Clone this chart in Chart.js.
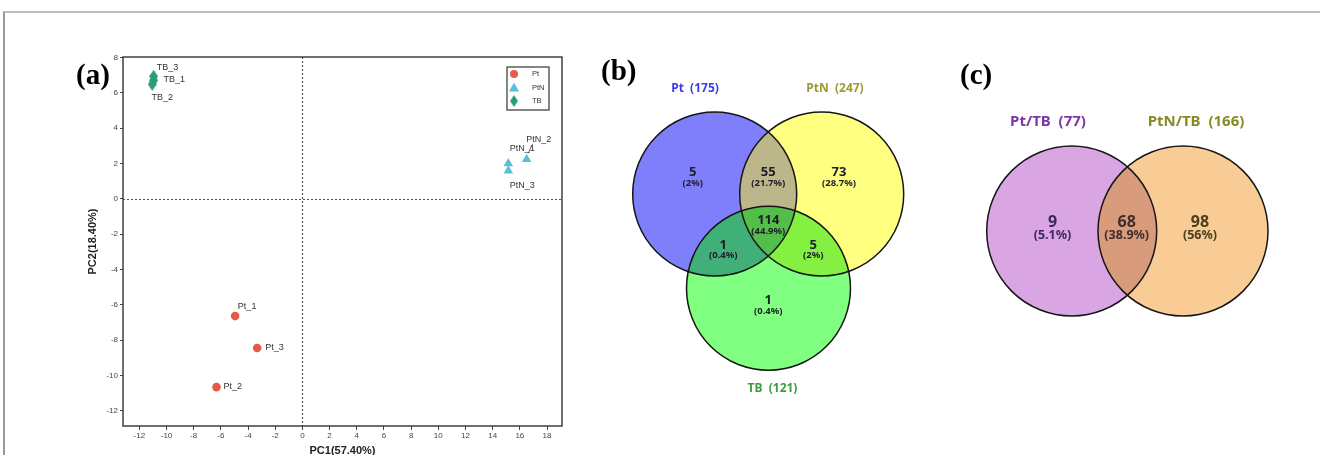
<!DOCTYPE html>
<html>
<head>
<meta charset="utf-8">
<script src="https://cdn.jsdelivr.net/npm/chart.js@4.4.1/dist/chart.umd.min.js"></script>
<style>
html, body { margin: 0; padding: 0; background: #fff; overflow: hidden; width: 1320px; height: 455px; }
#frame { position: absolute; left: 3px; top: 11px; width: 1330px; height: 460px; border-top: 2px solid #bdbdbd; border-left: 2px solid #9a9a9a; }
.box { position: absolute; }
.tag { position: absolute; font-family: 'Liberation Serif', 'Times New Roman', serif; font-weight: bold; font-size: 29px; line-height: 1; color: #000; }
</style>
</head>
<body>
<div id="frame"></div>
<div class="box" style="left:0;top:0;"><canvas id="pca" width="600" height="458"></canvas></div>
<div class="box" style="left:600px;top:40px;"><canvas id="vennB" width="330" height="370"></canvas></div>
<div class="box" style="left:960px;top:40px;"><canvas id="vennC" width="350" height="300"></canvas></div>
<div class="tag" style="left:76px;top:60px;">(a)</div>
<div class="tag" style="left:601px;top:56px;">(b)</div>
<div class="tag" style="left:960px;top:60px;">(c)</div>

<script>
// ---- (a) PCA scores ----
const ptNames = ['Pt_1', 'Pt_2', 'Pt_3'];
const ptX = [-4.95, -6.32, -3.33];
const ptY = [-6.63, -10.65, -8.44];

const ptnNames = ['PtN_1', 'PtN_2', 'PtN_3'];
const ptnX = [15.15, 16.5, 15.15];
const ptnY = [2.0, 2.25, 1.6];

const tbNames = ['TB_1', 'TB_2', 'TB_3'];
const tbX = [-10.95, -11.05, -10.95];
const tbY = [6.71, 6.49, 6.94];

const xTicks = [-12, -10, -8, -6, -4, -2, 0, 2, 4, 6, 8, 10, 12, 14, 16, 18];
const yTicks = [-12, -10, -8, -6, -4, -2, 0, 2, 4, 6, 8];

// ---- (b) Venn: Pt / PtN / TB ----
const setsB = ['Pt', 'PtN', 'TB'];
const totalsB = [175, 247, 121];
const regionCountsB = [5, 55, 73, 1, 114, 5, 1];   // Pt, Pt&PtN, PtN, Pt&TB, all, PtN&TB, TB
const regionPctB = ['2%', '21.7%', '28.7%', '0.4%', '44.9%', '2%', '0.4%'];

// ---- (c) Venn: Pt/TB vs PtN/TB ----
const setsC = ['Pt/TB', 'PtN/TB'];
const totalsC = [77, 166];
const regionCountsC = [9, 68, 98];                 // Pt/TB only, both, PtN/TB only
const regionPctC = ['5.1%', '38.9%', '56%'];

// narrow diamond marker for TB
function diamond(color) {
    const c = document.createElement('canvas');
    c.width = 9; c.height = 13;
    const g = c.getContext('2d');
    g.fillStyle = color;
    g.beginPath();
    g.moveTo(4.5, 0); g.lineTo(9, 6.5); g.lineTo(4.5, 13); g.lineTo(0, 6.5);
    g.closePath();
    g.fill();
    return c;
}
const tbMark = diamond('#2a9c7c');

const pts = (xs, ys) => xs.map((x, i) => ({ x: x, y: ys[i] }));

// label placement next to each point: [dx, dy, align]
const labelPos = {
    'TB_1': [10, -1, 'left'], 'TB_2': [10, 13, 'center'], 'TB_3': [14, -9, 'center'],
    'PtN_1': [14, -15, 'center'], 'PtN_2': [12, -20, 'center'], 'PtN_3': [14, 15, 'center'],
    'Pt_1': [12, -10, 'center'], 'Pt_2': [7, -1, 'left'], 'Pt_3': [8, -1, 'left']
};
const names = [ptNames, ptnNames, tbNames];

const pcaDecor = {
    id: 'pcaDecor',
    beforeDatasetsDraw(chart) {
        const { ctx, chartArea: a, scales: { x, y } } = chart;
        ctx.save();
        ctx.strokeStyle = '#555';
        ctx.lineWidth = 1.2;
        ctx.setLineDash([2, 2]);
        const x0 = Math.round(x.getPixelForValue(0)) + 0.5;
        const y0 = Math.round(y.getPixelForValue(0)) + 0.5;
        ctx.beginPath();
        ctx.moveTo(x0, a.top); ctx.lineTo(x0, a.bottom);
        ctx.moveTo(a.left, y0); ctx.lineTo(a.right, y0);
        ctx.stroke();
        ctx.restore();
    },
    afterDatasetsDraw(chart) {
        const { ctx, chartArea: a } = chart;
        ctx.save();
        ctx.font = '9px "Liberation Sans", Arial, sans-serif';
        ctx.fillStyle = '#333';
        ctx.textBaseline = 'middle';
        names.forEach((list, di) => {
            chart.getDatasetMeta(di).data.forEach((el, i) => {
                const p = labelPos[list[i]];
                ctx.textAlign = p[2];
                ctx.fillText(list[i], el.x + p[0], el.y + p[1]);
                if (list[i] === 'PtN_2') {
                    ctx.strokeStyle = '#444';
                    ctx.lineWidth = 0.8;
                    ctx.beginPath();
                    ctx.moveTo(el.x + 6, el.y - 15);
                    ctx.lineTo(el.x + 1.5, el.y - 6);
                    ctx.stroke();
                }
            });
        });

        // frame
        ctx.strokeStyle = '#333';
        ctx.lineWidth = 1.4;
        ctx.strokeRect(a.left, a.top, a.right - a.left, a.bottom - a.top);

        // legend
        const bx = a.right - 55, by = a.top + 10, bw = 42, bh = 43;
        ctx.lineWidth = 1.3;
        ctx.strokeStyle = '#444';
        ctx.strokeRect(bx, by, bw, bh);
        ctx.font = '7.5px "Liberation Sans", Arial, sans-serif';
        ctx.textAlign = 'left';
        chart.data.datasets.forEach((ds, i) => {
            const mx = bx + 7, my = by + 7 + i * 13.5;
            ctx.fillStyle = ds.backgroundColor;
            if (ds.pointStyle === 'circle') {
                ctx.beginPath(); ctx.arc(mx, my, 4, 0, Math.PI * 2); ctx.fill();
            } else if (ds.pointStyle === 'triangle') {
                ctx.beginPath(); ctx.moveTo(mx, my - 5); ctx.lineTo(mx + 5, my + 4); ctx.lineTo(mx - 5, my + 4); ctx.closePath(); ctx.fill();
            } else {
                ctx.drawImage(ds.pointStyle, mx - 4, my - 6, 8, 12);
            }
            ctx.fillStyle = '#333';
            ctx.fillText(ds.label, bx + 25, my);
        });
        ctx.restore();
    }
};

const axisFont = { family: 'Liberation Sans', size: 8 };
const titleFont = { family: 'Liberation Sans', size: 11, weight: 'bold' };

new Chart(document.getElementById('pca'), {
    type: 'scatter',
    data: {
        datasets: [
            { label: 'Pt', data: pts(ptX, ptY), pointStyle: 'circle', pointRadius: 4.3, backgroundColor: '#e65a47', borderWidth: 0 },
            { label: 'PtN', data: pts(ptnX, ptnY), pointStyle: 'triangle', pointRadius: 5.5, backgroundColor: '#5bbdd9', borderWidth: 0 },
            { label: 'TB', data: pts(tbX, tbY), pointStyle: tbMark, pointRadius: 5, backgroundColor: '#2a9c7c', borderWidth: 0 }
        ]
    },
    options: {
        responsive: false,
        animation: false,
        events: [],
        layout: { padding: { left: 86, top: 57, right: 38, bottom: 0 } },
        plugins: { legend: { display: false }, tooltip: { enabled: false } },
        scales: {
            x: {
                type: 'linear', min: -13.2, max: 19.1,
                afterBuildTicks: s => { s.ticks = xTicks.map(v => ({ value: v })); },
                afterFit: s => { s.height = 32; },
                grid: { drawOnChartArea: false, drawTicks: true, tickLength: 4, color: '#444' },
                border: { display: false },
                ticks: { padding: 1, color: '#444', font: axisFont, maxRotation: 0, autoSkip: false },
                title: { display: true, text: 'PC1(57.40%)', color: '#222', font: titleFont, padding: 0 }
            },
            y: {
                type: 'linear', min: -12.85, max: 8.03,
                afterBuildTicks: s => { s.ticks = yTicks.map(v => ({ value: v })); },
                afterFit: s => { s.width = 37; },
                grid: { drawOnChartArea: false, drawTicks: true, tickLength: 3, color: '#444' },
                border: { display: false },
                ticks: { padding: 2, color: '#444', font: axisFont, autoSkip: false },
                title: { display: true, text: 'PC2(18.40%)', color: '#222', font: titleFont, padding: 0 }
            }
        }
    },
    plugins: [pcaDecor]
});

// ---- Venn drawing (circles are bubbles, overlaps clipped on top) ----
const vennPlugin = {
    id: 'venn',
    afterDatasetsDraw(chart, args, o) {
        const { ctx, scales: { x, y } } = chart;
        const circ = chart.data.datasets.map((d, i) => {
            const el = chart.getDatasetMeta(i).data[0];
            return { x: el.x, y: el.y, r: el.options.radius };
        });
        const path = c => { ctx.beginPath(); ctx.arc(c.x, c.y, c.r, 0, Math.PI * 2); };
        o.overlaps.forEach(ov => {
            ctx.save();
            ov.sets.slice(0, -1).forEach(k => { path(circ[k]); ctx.clip(); });
            path(circ[ov.sets[ov.sets.length - 1]]);
            ctx.fillStyle = ov.color;
            ctx.fill();
            ctx.restore();
        });
        ctx.save();
        ctx.strokeStyle = '#151515';
        ctx.lineWidth = 1.5;
        circ.forEach(c => { path(c); ctx.stroke(); });
        ctx.textAlign = 'center';
        ctx.textBaseline = 'middle';
        o.setLabels.forEach(l => {
            ctx.font = o.setFont;
            ctx.fillStyle = l.color;
            ctx.fillText(l.text, x.getPixelForValue(l.x), y.getPixelForValue(l.y));
        });
        o.regions.forEach(r => {
            ctx.fillStyle = r.color;
            ctx.font = o.numFont;
            ctx.fillText(String(r.num), x.getPixelForValue(r.x), y.getPixelForValue(r.y));
            ctx.font = o.pctFont;
            ctx.fillText('(' + r.pct + ')', x.getPixelForValue(r.x), y.getPixelForValue(r.y + r.gap));
        });
        ctx.restore();
    }
};

function vennConfig(w, h, circles, fills, pluginOpts) {
    return {
        type: 'bubble',
        data: {
            datasets: circles.map((c, i) => ({
                data: [{ x: c.x, y: c.y, r: c.r }],
                backgroundColor: fills[i],
                borderWidth: 0,
                hoverRadius: 0,
                clip: false
            }))
        },
        options: {
            responsive: false,
            animation: false,
            events: [],
            layout: { padding: 0, autoPadding: false },
            plugins: { legend: { display: false }, tooltip: { enabled: false }, venn: pluginOpts },
            scales: {
                x: { type: 'linear', min: 0, max: w, display: false },
                y: { type: 'linear', min: 0, max: h, reverse: true, display: false }
            }
        },
        plugins: [vennPlugin]
    };
}

// layout of (b), in canvas pixels
const circlesB = [{ x: 114.7, y: 154, r: 82 }, { x: 221.7, y: 154, r: 82 }, { x: 168.5, y: 248.3, r: 82 }];
const regionXYB = [[92.7, 132.5], [168.3, 132.5], [239, 132.5], [123.3, 205], [168.3, 180.5], [213.3, 205], [168.3, 260.5]];
const dark = '#1d1d2b';

new Chart(document.getElementById('vennB'), vennConfig(330, 370, circlesB,
    ['#7f7ffc', '#ffff80', '#80ff80'],
    {
        overlaps: [
            { sets: [0, 1], color: '#bdb68a' },
            { sets: [0, 2], color: '#40b078' },
            { sets: [1, 2], color: '#84f042' },
            { sets: [0, 1, 2], color: '#54be4a' }
        ],
        setFont: 'bold 12px "Noto Sans", sans-serif',
        numFont: 'bold 13px "Noto Sans", sans-serif',
        pctFont: 'bold 9.5px "Noto Sans", sans-serif',
        setLabels: [
            { text: setsB[0] + '  (' + totalsB[0] + ')', color: '#3a3af2', x: 95, y: 49 },
            { text: setsB[1] + '  (' + totalsB[1] + ')', color: '#9c9a32', x: 235, y: 49 },
            { text: setsB[2] + '  (' + totalsB[2] + ')', color: '#3c9c3c', x: 172.5, y: 349 }
        ],
        regions: regionCountsB.map((n, i) => ({ num: n, pct: regionPctB[i], x: regionXYB[i][0], y: regionXYB[i][1], gap: 10.5, color: dark }))
    }));

// layout of (c), in canvas pixels
const circlesC = [{ x: 111.7, y: 191, r: 85 }, { x: 223, y: 191, r: 85 }];
const regionXC = [92.5, 166.7, 240];
const regionColC = ['#3e2662', '#3f2c2c', '#46401e'];

new Chart(document.getElementById('vennC'), vennConfig(350, 300, circlesC,
    ['#d9a6e3', '#f9cb95'],
    {
        overlaps: [{ sets: [0, 1], color: '#d89b7c' }],
        setFont: 'bold 15px "Noto Sans", sans-serif',
        numFont: 'bold 16px "Noto Sans", sans-serif',
        pctFont: 'bold 12.5px "Noto Sans", sans-serif',
        setLabels: [
            { text: setsC[0] + '  (' + totalsC[0] + ')', color: '#7a36ad', x: 88, y: 82 },
            { text: setsC[1] + '  (' + totalsC[1] + ')', color: '#8a8a22', x: 236, y: 82 }
        ],
        regions: regionCountsC.map((n, i) => ({ num: n, pct: regionPctC[i], x: regionXC[i], y: 182, gap: 13, color: regionColC[i] }))
    }));
</script>
</body>
</html>
